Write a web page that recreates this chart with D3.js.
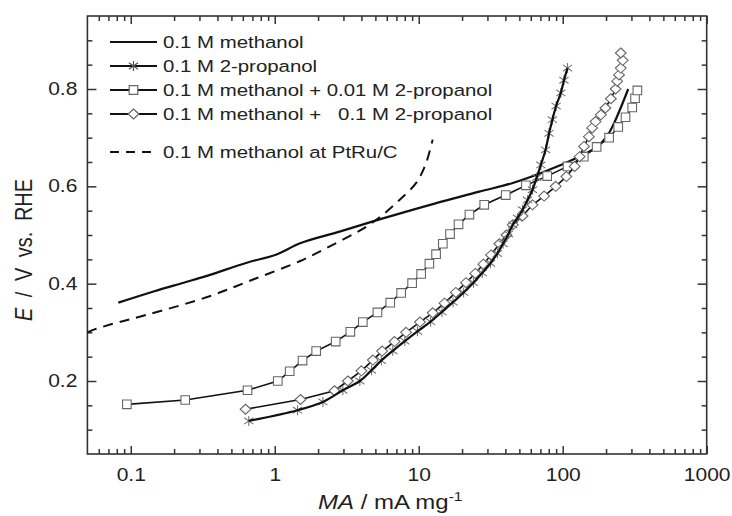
<!DOCTYPE html>
<html><head><meta charset="utf-8">
<script src="https://cdn.jsdelivr.net/npm/d3@7"></script>
<style>
body{margin:0;background:#fff;}
svg{display:block;font-family:"Liberation Sans",Arial,Helvetica,sans-serif;}
</style></head><body>
<svg id="chart" width="732" height="516"></svg>
<script>
// ---------------- data (MA in mA/mg, E in V vs RHE) ----------------
const methanol = [[0.082,0.361],[0.144,0.384],[0.233,0.402],[0.338,0.416],[0.64,0.443],[1.03,0.46],[1.5,0.483],[2.82,0.507],[5.34,0.532],[12,0.562],[26.3,0.589],[45,0.607],[76,0.631],[130,0.661],[169,0.679],[200,0.70],[225,0.727],[255,0.764],[285,0.80]];
const propanol = [[0.66,0.118],[1.44,0.14],[2.16,0.157],[2.97,0.181],[3.9,0.20],[4.7,0.222],[5.5,0.242],[6.6,0.262],[8.0,0.282],[9.8,0.302],[12.1,0.322],[14.5,0.342],[17.3,0.362],[20.5,0.382],[24,0.402],[27.6,0.422],[31.5,0.442],[35.2,0.462],[38.5,0.482],[42,0.502],[45,0.521],[48.5,0.535],[52.6,0.552],[57,0.572],[61.7,0.593],[66,0.618],[70.5,0.644],[76,0.675],[80.4,0.709],[84.8,0.737],[90,0.765],[97,0.792],[102,0.818],[108,0.843]];
const mix001 = [[0.094,0.152],[0.239,0.161],[0.647,0.181],[1.05,0.20],[1.27,0.22],[1.56,0.242],[1.94,0.2615],[2.65,0.281],[3.35,0.301],[4.09,0.321],[5.17,0.341],[6.34,0.361],[7.55,0.381],[9.0,0.401],[10.4,0.42],[11.86,0.441],[13.2,0.4605],[14.7,0.482],[16.5,0.502],[18.9,0.522],[22.5,0.542],[28.5,0.562],[40.2,0.582],[55.5,0.602],[78,0.621],[108,0.641],[140,0.661],[172,0.681],[210,0.70],[243,0.722],[273,0.742],[304,0.762],[318,0.781],[330,0.797]];
const mix01 = [[0.627,0.142],[1.51,0.162],[2.6,0.18],[3.22,0.20],[4.0,0.221],[4.8,0.243],[5.57,0.2615],[6.79,0.281],[8.17,0.30],[10.2,0.321],[12.5,0.34],[15.1,0.36],[18.1,0.382],[21.3,0.402],[24.7,0.421],[28.1,0.44],[31.8,0.459],[36.3,0.482],[40.7,0.50],[45,0.521],[52.6,0.539],[61.7,0.562],[74.3,0.58],[89.4,0.60],[106,0.62],[121,0.641],[131,0.661],[140.6,0.682],[152,0.702],[160,0.72],[169,0.733],[184,0.747],[198,0.761],[216,0.78],[233,0.80],[239,0.816],[246,0.829],[253,0.843],[261,0.859],[253,0.874]];
const ptru = [[0.05,0.30],[0.056,0.306],[0.072,0.316],[0.129,0.336],[0.336,0.372],[0.7,0.408],[1.49,0.446],[2.05,0.466],[4.32,0.517],[5.6,0.541],[7.35,0.572],[9.6,0.607],[11.25,0.648],[12.5,0.696]];

const xTickValues = [0.1,1,10,100,1000];
const xTickLabels = ["0.1","1","10","100","1000"];
const yTickValues = [0.2,0.4,0.6,0.8];
const yTickLabels = ["0.2","0.4","0.6","0.8"];
const legendLabels = ["0.1 M methanol","0.1 M 2-propanol","0.1 M methanol + 0.01 M 2-propanol","0.1 M methanol +   0.1 M 2-propanol","0.1 M methanol at PtRu/C"];

// ---------------- layout ----------------
const svg = d3.select("#chart");
const L = 87.4, R = 706.7, T = 16, B = 454;
const SX = 1.2;                 // horizontal stretch of the original picture
const ink = "#222", frame = "#333", markGray = "#666";

const x = d3.scaleLog().domain([0.05,1000]).range([L,R]);
const y = d3.scaleLinear().domain([0.05,0.95]).range([B,T]);

// ---------------- axes ----------------
const xMinor = x.ticks().filter(v => xTickValues.indexOf(v) < 0 && v > 0.05 && v < 1000);
const yMinor = y.ticks(18).filter(v => v > 0.06 && v < 0.94 && !yTickValues.some(t => Math.abs(t - v) < 1e-6));

function styleAxis(g){
  g.select(".domain").remove();
  g.selectAll("line").attr("stroke", frame).attr("stroke-width", 1.5);
  g.selectAll("text").attr("fill", ink).style("font-size","17.5px");
}
// bottom
const gb = svg.append("g").attr("transform",`translate(0,${B})`)
  .call(d3.axisBottom(x).tickValues(xTickValues).tickFormat((d,i)=>xTickLabels[i]).tickSize(-8).tickPadding(14.5));
styleAxis(gb); gb.selectAll("text").attr("transform",`scale(${SX},1)`);
svg.append("g").attr("transform",`translate(0,${B})`)
  .call(d3.axisBottom(x).tickValues(xMinor).tickFormat("").tickSize(-5)).call(styleAxis);
// top
svg.append("g").attr("transform",`translate(0,${T})`)
  .call(d3.axisTop(x).tickValues(xTickValues).tickFormat("").tickSize(-8)).call(styleAxis);
svg.append("g").attr("transform",`translate(0,${T})`)
  .call(d3.axisTop(x).tickValues(xMinor).tickFormat("").tickSize(-5)).call(styleAxis);
// left
const gl = svg.append("g").attr("transform",`translate(${L},0)`)
  .call(d3.axisLeft(y).tickValues(yTickValues).tickFormat((d,i)=>yTickLabels[i]).tickSize(-9).tickPadding(8.4));
styleAxis(gl); gl.selectAll("text").attr("transform",`scale(${SX},1)`);
svg.append("g").attr("transform",`translate(${L},0)`)
  .call(d3.axisLeft(y).tickValues(yMinor).tickFormat("").tickSize(-5)).call(styleAxis);
// right
svg.append("g").attr("transform",`translate(${R},0)`)
  .call(d3.axisRight(y).tickValues(yTickValues).tickFormat("").tickSize(-9)).call(styleAxis);
svg.append("g").attr("transform",`translate(${R},0)`)
  .call(d3.axisRight(y).tickValues(yMinor).tickFormat("").tickSize(-5)).call(styleAxis);

svg.append("rect").attr("x",L).attr("y",T).attr("width",R-L).attr("height",B-T)
  .attr("fill","none").attr("stroke",frame).attr("stroke-width",1.6);

// ---------------- marker shapes ----------------
const sqPath = "M-4.3,-4.3H4.3V4.3H-4.3Z";
const diaPath = "M0,-5H5.4L0,5L-5.4,0Z".replace("M0,-5H5.4","M0,-5L5.4,0");
const starPath = "M0,-5V5M-4.6,-3.2L4.6,3.2M-4.6,3.2L4.6,-3.2";

// ---------------- series ----------------
const plot = svg.append("g");
const lineLin = d3.line().x(d=>x(d[0])).y(d=>y(d[1]));
const lineSmooth = d3.line().x(d=>x(d[0])).y(d=>y(d[1])).curve(d3.curveCatmullRom.alpha(0.5));

// PtRu/C dashed
plot.append("path").datum(ptru).attr("d",lineSmooth).attr("fill","none")
  .attr("stroke","#111").attr("stroke-width",2).attr("stroke-dasharray","10,7");
// methanol solid
plot.append("path").datum(methanol).attr("d",lineSmooth).attr("fill","none")
  .attr("stroke","#111").attr("stroke-width",2.2);

// squares series
plot.append("path").datum(mix001).attr("d",lineLin).attr("fill","none")
  .attr("stroke","#111").attr("stroke-width",1.6);
plot.selectAll(".sq").data(mix001).join("path").attr("class","sq")
  .attr("d",sqPath).attr("transform",d=>`translate(${x(d[0])},${y(d[1])})`)
  .attr("fill","#fff").attr("stroke",markGray).attr("stroke-width",1.1);

// diamonds series
plot.append("path").datum(mix01).attr("d",lineLin).attr("fill","none")
  .attr("stroke","#111").attr("stroke-width",1.6);
plot.selectAll(".dia").data(mix01).join("path").attr("class","dia")
  .attr("d",diaPath).attr("transform",d=>`translate(${x(d[0])},${y(d[1])})`)
  .attr("fill","#fff").attr("stroke",markGray).attr("stroke-width",1.1);

// 2-propanol stars
plot.selectAll(".st").data(propanol).join("path").attr("class","st")
  .attr("d",starPath).attr("transform",d=>`translate(${x(d[0])},${y(d[1])})`)
  .attr("fill","none").attr("stroke","#777").attr("stroke-width",1.1);
plot.append("path").datum(propanol).attr("d",lineSmooth).attr("fill","none")
  .attr("stroke","#111").attr("stroke-width",2.2);

// ---------------- legend ----------------
const legY = [42,66,90,114,152];
const legend = svg.append("g");
const lx0 = 110, lx1 = 157, lxm = 133.5;
legendLabels.forEach((lab,i)=>{
  const row = legend.append("g");
  const ly = legY[i];
  row.append("line").attr("x1",lx0).attr("x2",lx1).attr("y1",ly).attr("y2",ly)
    .attr("stroke","#111").attr("stroke-width", i===4 ? 2 : (i===0 ? 2.2 : 1.8))
    .attr("stroke-dasharray", i===4 ? "9,7" : null);
  if (i===1) row.append("path").attr("d",starPath).attr("transform",`translate(${lxm},${ly})`)
    .attr("fill","none").attr("stroke","#555").attr("stroke-width",1.2);
  if (i===2) row.append("path").attr("d",sqPath).attr("transform",`translate(${lxm},${ly})`)
    .attr("fill","#fff").attr("stroke",markGray).attr("stroke-width",1.2);
  if (i===3) row.append("path").attr("d",diaPath).attr("transform",`translate(${lxm},${ly})`)
    .attr("fill","#fff").attr("stroke",markGray).attr("stroke-width",1.2);
  row.append("text").attr("transform",`translate(163,${ly}) scale(${SX},1)`)
    .attr("dy","0.36em").attr("fill",ink).style("font-size","17px")
    .style("white-space","pre").attr("xml:space","preserve").text(lab);
});

// ---------------- axis titles ----------------
const yt = svg.append("text").attr("transform",`translate(32,250) scale(${SX},1) rotate(-90)`)
  .attr("text-anchor","middle").attr("fill",ink).style("font-size","20px").style("word-spacing","5px");
yt.append("tspan").style("font-style","italic").text("E");
yt.append("tspan").text(" / V vs. RHE");

const xt = svg.append("text").attr("transform",`translate(318,509) scale(${SX},1)`)
  .attr("fill",ink).style("font-size","20px");
xt.append("tspan").style("font-style","italic").text("MA");
xt.append("tspan").text(" / mA mg");
xt.append("tspan").attr("dy","-8").style("font-size","13px").text("-1");
</script>
</body></html>
